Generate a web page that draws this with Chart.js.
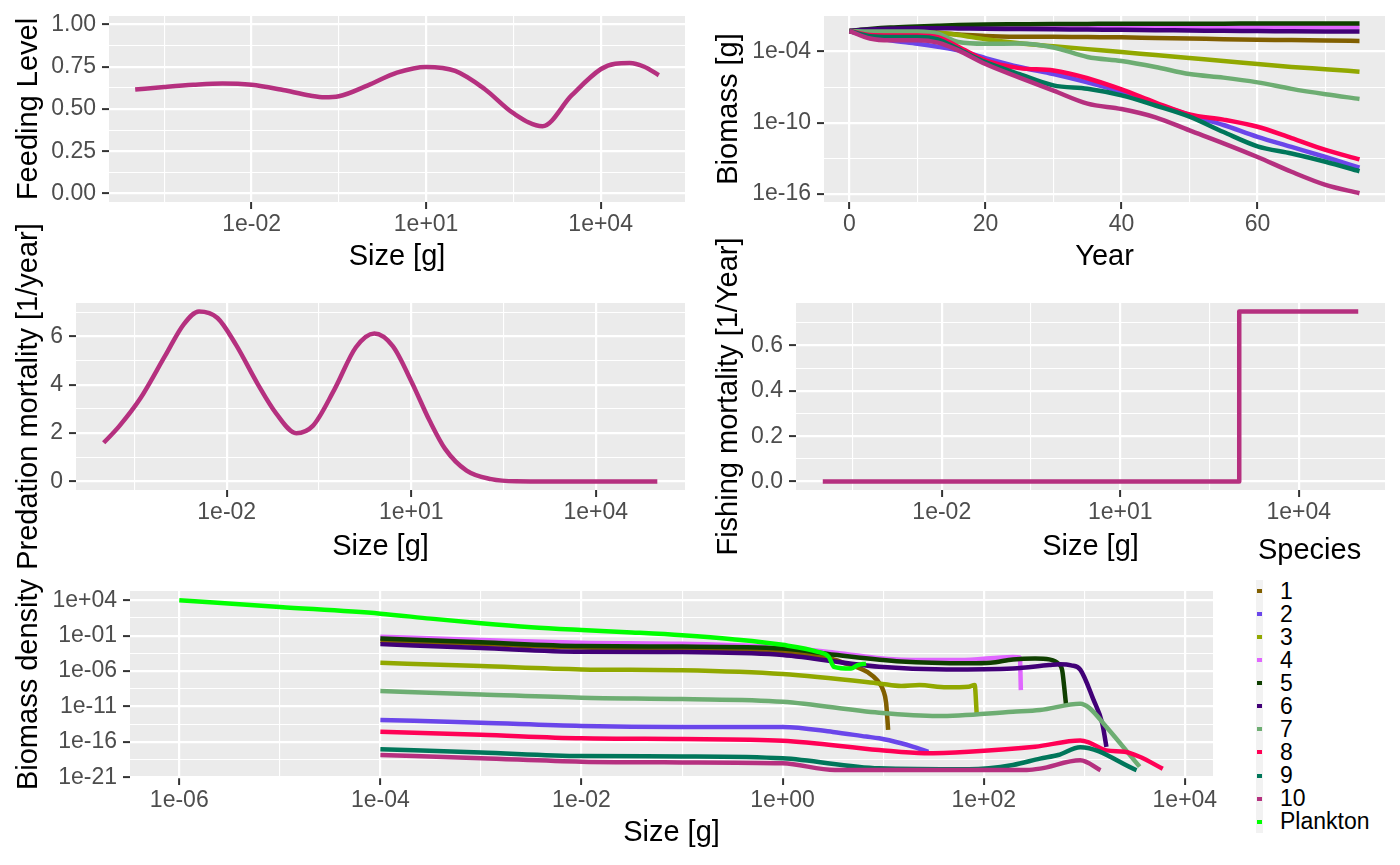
<!DOCTYPE html>
<html>
<head>
<meta charset="utf-8">
<title>mizer summary plots</title>
<script src="https://cdn.jsdelivr.net/npm/chart.js@4.4.1/dist/chart.umd.min.js"></script>
<style>
  body { margin: 0; background: #fff; }
  #wrap { position: relative; width: 1400px; height: 865px; overflow: hidden;
          font-family: "Liberation Sans", Arial, sans-serif; }
  #wrap canvas { position: absolute; }
  .lg { position: absolute; white-space: nowrap; }
</style>
</head>
<body>
<div id="wrap">
  <canvas id="feeding" width="679" height="274" style="left:12px;top:0px"></canvas>
  <canvas id="biomass" width="679" height="274" style="left:712px;top:0px"></canvas>
  <canvas id="predation" width="679" height="376" style="left:12px;top:200px"></canvas>
  <canvas id="fishing" width="679" height="376" style="left:712px;top:200px"></canvas>
  <canvas id="spectra" width="1207" height="290" style="left:12px;top:560px"></canvas>
</div>
<script>
// ---- data ----
var speciesNames = ['1', '2', '3', '4', '5', '6', '7', '8', '9', '10', 'Plankton'];
var speciesColors = ['#815F00', '#6A46EA', '#91A800', '#E066FF', '#0F3F00', '#410077',
                     '#6DAD72', '#FF0055', '#00765A', '#B5307F', '#00FF00'];

// feeding level vs size (all species lie on top of each other)
var feedSize = [1e-4, 3.16e-4, 1e-3, 3.16e-3, 1e-2, 3.16e-2, 0.1, 0.178, 0.316, 1, 3.16, 10,
                31.6, 100, 316, 1000, 3162, 1e4, 1.78e4, 3.16e4, 5.62e4, 1e5];
var feedLevel = [0.615, 0.630, 0.643, 0.651, 0.643, 0.615, 0.580, 0.569, 0.575, 0.64, 0.715, 0.749,
                 0.725, 0.62, 0.475, 0.398, 0.58, 0.735, 0.768, 0.772, 0.75, 0.70];

// predation mortality vs size
var predSize = [1e-4, 1.78e-4, 3.98e-4, 1e-3, 2e-3, 3.55e-3, 7.08e-3, 1.41e-2, 3.16e-2, 6.31e-2,
                0.135, 0.251, 0.562, 1.26, 2.51, 5.01, 10, 20, 35.5, 79.4, 200, 501, 3162, 3.16e4, 1e5];
var predMort = [1.6, 2.28, 3.45, 5.2, 6.5, 7.03, 6.76, 5.66, 4.05, 2.83,
                2.0, 2.3, 3.8, 5.55, 6.12, 5.6, 4.15, 2.5, 1.35, 0.45, 0.1, 0.01, 0, 0, 0];

// fishing mortality vs size (knife edge at 1 kg)
var fishSize = [1e-4, 1000, 1000, 1e5];
var fishMort = [0, 0, 0.75, 0.75];

// biomass through time
var years = [0, 3, 6, 10, 13, 16, 20, 25, 30, 35, 40, 45, 50, 55, 60, 65, 70, 75];
var bio1 = [5.4e-3, 5.0e-3, 4.5e-3, 4.0e-3, 3.5e-3, 2.8e-3, 2.1e-3, 1.8e-3, 1.74e-3, 1.66e-3, 1.6e-3, 1.4e-3, 1.26e-3, 1.1e-3, 1.0e-3, 9.3e-4, 8.5e-4, 7.9e-4];
var bio2 = [5.4e-3, 1.8e-3, 8.9e-4, 4.5e-4, 2.5e-4, 1.26e-4, 2.8e-5, 5.0e-6, 1.26e-6, 2.5e-7, 4.0e-8, 4.0e-9, 4.5e-10, 6.3e-11, 6.3e-12, 8.9e-13, 1.26e-13, 1.6e-14];
var bio3 = [5.4e-3, 5.6e-3, 5.6e-3, 5.0e-3, 4.0e-3, 2.5e-3, 1.1e-3, 5.0e-4, 2.8e-4, 1.6e-4, 9.3e-5, 5.0e-5, 2.8e-5, 1.6e-5, 8.7e-6, 5.0e-6, 3.2e-6, 2.0e-6];
var bio4 = [5.4e-3, 7.1e-3, 8.9e-3, 1.0e-2, 1.07e-2, 1.1e-2, 1.15e-2, 1.17e-2, 1.17e-2, 1.17e-2, 1.17e-2, 1.17e-2, 1.17e-2, 1.17e-2, 1.17e-2, 1.17e-2, 1.17e-2, 1.17e-2];
var bio5 = [5.4e-3, 7.9e-3, 1.05e-2, 1.3e-2, 1.5e-2, 1.7e-2, 1.9e-2, 2.0e-2, 2.1e-2, 2.15e-2, 2.2e-2, 2.2e-2, 2.25e-2, 2.25e-2, 2.3e-2, 2.3e-2, 2.3e-2, 2.3e-2];
var bio6 = [5.4e-3, 7.1e-3, 8.3e-3, 9.1e-3, 9.3e-3, 8.9e-3, 8.3e-3, 8.0e-3, 7.6e-3, 7.1e-3, 6.8e-3, 6.3e-3, 6.0e-3, 5.6e-3, 5.4e-3, 5.1e-3, 4.9e-3, 4.8e-3];
var bio7 = [5.4e-3, 5.0e-3, 5.0e-3, 4.8e-3, 3.2e-3, 6.3e-4, 4.5e-4, 4.7e-4, 2.2e-4, 3.5e-5, 1.6e-5, 5.0e-6, 1.26e-6, 6.3e-7, 2.5e-7, 7.1e-8, 2.5e-8, 1.0e-8];
var bio8 = [5.4e-3, 2.5e-3, 2.3e-3, 2.3e-3, 1.6e-3, 2.5e-4, 1.8e-5, 4.0e-6, 2.5e-6, 5.6e-7, 6.3e-8, 5.0e-9, 5.0e-10, 1.8e-10, 4.5e-11, 5.0e-12, 5.0e-13, 7.9e-14];
var bio9 = [5.4e-3, 2.0e-3, 1.7e-3, 1.7e-3, 1.07e-3, 1.6e-4, 1.26e-5, 1.26e-6, 1.4e-7, 7.1e-8, 2.0e-8, 2.8e-9, 3.2e-10, 1.6e-11, 1.0e-12, 2.5e-13, 5.0e-14, 7.9e-15];
var bio10 = [5.4e-3, 1.26e-3, 8.9e-4, 8.9e-4, 5.6e-4, 1.26e-4, 8.9e-6, 6.3e-7, 5.0e-8, 4.0e-9, 1.4e-9, 2.8e-10, 2.2e-11, 1.8e-12, 1.26e-13, 7.1e-15, 5.6e-16, 1.1e-16];

// biomass density spectra
var sp1Size = [1e-4, 1e-3, 1e-2, 0.1, 0.49, 1, 2.69, 3.98, 5.5, 7.08, 8.71, 10, 10.7, 11.2];
var sp1Dens = [1.78e-2, 6.31e-3, 2.14e-3, 1.58e-3, 1e-3, 5.62e-4, 1e-4, 1.58e-5, 3.55e-6, 6.31e-7, 5.01e-8, 2.0e-9, 3.16e-11, 5.01e-15];
var sp2Size = [1e-4, 1e-3, 1e-2, 0.1, 1, 3.16, 6.76, 9.12, 15.1, 20, 28.2];
var sp2Dens = [1.26e-13, 5.01e-14, 1.78e-14, 1.26e-14, 1.26e-14, 2.51e-15, 5.62e-16, 3.16e-16, 6.31e-17, 2.0e-17, 3.98e-18];
var sp3Size = [1e-4, 1e-3, 1e-2, 0.1, 1, 9.12, 15.1, 22.9, 42.7, 70.8, 81.3, 85.1];
var sp3Dens = [1.48e-5, 5.01e-6, 1.7e-6, 1.26e-6, 3.72e-7, 1.78e-8, 7.59e-9, 1.05e-8, 5.01e-9, 6.03e-9, 1.05e-8, 1e-12];
var sp4Size = [1e-4, 1e-3, 1e-2, 0.1, 1, 3.31, 15.1, 57.5, 195, 229, 234];
var sp4Dens = [7.08e-2, 2.51e-2, 1e-2, 7.08e-3, 2.14e-3, 3.98e-4, 3.98e-5, 3.55e-5, 1e-4, 8.32e-5, 2.0e-9];
var sp5Size = [1e-4, 1e-3, 1e-2, 0.1, 1, 3.31, 15.1, 70.8, 117, 195, 324, 447, 550, 603, 631, 661];
var sp5Dens = [3.98e-2, 1.12e-2, 3.31e-3, 2.82e-3, 1.55e-3, 2.0e-4, 2.24e-5, 1.26e-5, 1.48e-5, 4.37e-5, 6.03e-5, 4.37e-5, 1.17e-5, 1.26e-6, 6.31e-9, 1e-11];
var sp6Size = [1e-4, 1e-3, 1e-2, 0.1, 0.49, 1, 9.12, 42.7, 195, 447, 575, 741, 912, 1230, 1510, 1660];
var sp6Dens = [6.31e-3, 1.78e-3, 5.25e-4, 5.01e-4, 3.16e-4, 1.78e-4, 3.98e-6, 1.7e-6, 2.34e-6, 6.92e-6, 9.12e-6, 6.31e-6, 1.58e-6, 1e-10, 3.98e-14, 2.0e-17];
var sp7Size = [1e-4, 1e-3, 1e-2, 0.1, 1, 9.12, 34.7, 195, 363, 912, 1120, 1660, 3550];
var sp7Dens = [1.48e-9, 5.01e-10, 1.7e-10, 1.12e-10, 4.68e-11, 1.32e-12, 4.47e-13, 1.82e-12, 3.16e-12, 2.4e-11, 6.31e-12, 1.26e-14, 3.16e-20];
var sp8Size = [1e-4, 1e-3, 1e-2, 0.1, 1, 9.12, 25.7, 70.8, 324, 912, 1120, 1660, 2510, 3550, 6030];
var sp8Dens = [2.75e-15, 1e-15, 3.16e-16, 2.51e-16, 1.48e-16, 7.08e-18, 2.51e-18, 4.17e-18, 2.09e-17, 1.58e-16, 7.94e-17, 6.31e-18, 3.98e-18, 7.94e-19, 1.58e-20];
var sp9Size = [1e-4, 1e-3, 1e-2, 0.1, 1, 9.12, 70.8, 195, 363, 550, 912, 3310];
var sp9Dens = [8.91e-18, 3.16e-18, 1e-18, 8.91e-19, 4.79e-19, 1.86e-20, 1.35e-20, 5.5e-20, 4.37e-19, 1.41e-18, 1.78e-17, 1e-20];
var sp10Size = [1e-4, 1e-3, 1e-2, 0.1, 1, 3.31, 269, 363, 912, 1450];
var sp10Dens = [1.41e-18, 5.01e-19, 1.58e-19, 1.26e-19, 9.33e-20, 1.07e-20, 1.07e-20, 1.66e-20, 2.51e-19, 1e-20];
var plSize = [1e-6, 1e-5, 1e-4, 3.16e-4, 1e-3, 3.16e-3, 1e-2, 3.16e-2, 0.1, 0.316, 1, 2.24, 2.88, 3.24, 4.79, 5.5, 6.76];
var plDens = [1e4, 1.12e3, 126, 25.1, 5.62, 1.58, 0.631, 0.282, 0.112, 3.16e-2, 5.01e-3, 5.01e-4, 1e-4, 3.98e-6, 2.24e-6, 6.31e-6, 1.12e-5];

// ---- axis breaks ----
var sizeBreaks = [1e-2, 1e1, 1e4];
var sizeLabels = ['1e-02', '1e+01', '1e+04'];
var sizeMinor = [Math.pow(10, -3.5), Math.pow(10, -0.5), Math.pow(10, 2.5)];
var feedBreaks = [0, 0.25, 0.5, 0.75, 1];
var feedLabels = ['0.00', '0.25', '0.50', '0.75', '1.00'];
var feedMinor = [0.125, 0.375, 0.625, 0.875];
var yearBreaks = [0, 20, 40, 60];
var yearLabels = ['0', '20', '40', '60'];
var yearMinor = [10, 30, 50, 70];
var bioBreaks = [1e-4, 1e-10, 1e-16];
var bioLabels = ['1e-04', '1e-10', '1e-16'];
var bioMinor = [1e-7, 1e-13];
var predBreaks = [0, 2, 4, 6];
var predLabels = ['0', '2', '4', '6'];
var predMinor = [1, 3, 5, 7];
var fishBreaks = [0, 0.2, 0.4, 0.6];
var fishLabels = ['0.0', '0.2', '0.4', '0.6'];
var fishMinor = [0.1, 0.3, 0.5, 0.7];
var specXBreaks = [1e-6, 1e-4, 1e-2, 1, 1e2, 1e4];
var specXLabels = ['1e-06', '1e-04', '1e-02', '1e+00', '1e+02', '1e+04'];
var specXMinor = [1e-5, 1e-3, 1e-1, 1e1, 1e3];
var specYBreaks = [1e4, 1e-1, 1e-6, 1e-11, 1e-16, 1e-21];
var specYLabels = ['1e+04', '1e-01', '1e-06', '1e-11', '1e-16', '1e-21'];
var specYMinor = [Math.pow(10, 1.5), Math.pow(10, -3.5), Math.pow(10, -8.5), Math.pow(10, -13.5), Math.pow(10, -18.5)];

// ---- helpers ----
var FONT = '"Liberation Sans", Arial, sans-serif';
Chart.defaults.font.family = FONT;

// grey panel behind the grid, like ggplot
var panelBg = {
  id: 'panelBg',
  beforeDraw: function (chart) {
    var a = chart.chartArea, c = chart.ctx;
    c.save();
    c.fillStyle = '#EBEBEB';
    c.fillRect(a.left, a.top, a.right - a.left, a.bottom - a.top);
    c.restore();
  }
};

function isMinor(ctx) { return ctx.tick && ctx.tick.minor; }

function axis(o) {
  return {
    type: o.type,
    position: o.position,
    min: o.min,
    max: o.max,
    bounds: 'data',
    afterBuildTicks: function (s) {
      var t = [];
      o.breaks.forEach(function (v, i) { if (v >= o.min && v <= o.max) t.push({ value: v, lbl: o.labels[i] }); });
      o.minor.forEach(function (v) { if (v > o.min && v < o.max) t.push({ value: v, lbl: '', minor: true }); });
      t.sort(function (a, b) { return a.value - b.value; });
      s.ticks = t;
    },
    afterFit: function (s) {
      if (s.isHorizontal()) s.height = o.size; else s.width = o.size;
      s.paddingTop = s.paddingBottom = s.paddingLeft = s.paddingRight = 0;
    },
    border: { display: false },
    grid: {
      color: '#FFFFFF',
      lineWidth: function (ctx) { return isMinor(ctx) ? 1.1 : 2.2; },
      drawTicks: true,
      tickLength: 7,
      tickWidth: 2,
      tickColor: function (ctx) { return isMinor(ctx) ? 'rgba(0,0,0,0)' : '#333333'; }
    },
    ticks: {
      autoSkip: false,
      maxRotation: 0,
      padding: o.position === 'bottom' ? 2 : 6,
      color: '#4D4D4D',
      font: { family: FONT, size: 23, lineHeight: 1.2 },
      callback: function (v, i, t) { return t[i].lbl; }
    },
    title: {
      display: true,
      text: o.title,
      color: '#000000',
      padding: 0,
      font: { family: FONT, size: 29, lineHeight: 1.2 }
    }
  };
}

function line(label, xs, ys, color, smooth) {
  return {
    label: label,
    data: xs.map(function (x, i) { return { x: x, y: ys[i] }; }),
    borderColor: color,
    borderWidth: 4.5,
    pointRadius: 0,
    fill: false,
    cubicInterpolationMode: smooth ? 'monotone' : 'default',
    tension: 0,
    borderJoinStyle: 'round'
  };
}

function makeChart(id, datasets, xAxis, yAxis, pad) {
  return new Chart(document.getElementById(id), {
    type: 'line',
    data: { datasets: datasets },
    plugins: [panelBg],
    options: {
      responsive: false,
      animation: false,
      devicePixelRatio: 1,
      layout: { padding: pad },
      plugins: { legend: { display: false }, tooltip: { enabled: false } },
      scales: { x: xAxis, y: yAxis }
    }
  });
}

var sizeMin = Math.pow(10, -4.45), sizeMax = Math.pow(10, 5.45);

// ---- top left: feeding level ----
makeChart('feeding',
  [line('Feeding level', feedSize, feedLevel, speciesColors[9], true)],
  axis({ type: 'logarithmic', position: 'bottom', min: sizeMin, max: sizeMax, breaks: sizeBreaks,
         labels: sizeLabels, minor: sizeMinor, size: 72, title: 'Size [g]' }),
  axis({ type: 'linear', position: 'left', min: -0.05, max: 1.05, breaks: feedBreaks,
         labels: feedLabels, minor: feedMinor, size: 97, title: 'Feeding Level' }),
  { top: 16, right: 6, bottom: 0, left: 0 });

// ---- top right: biomass through time ----
var bioSeries = [bio1, bio2, bio3, bio4, bio5, bio6, bio7, bio8, bio9, bio10];
var bioSets = bioSeries.map(function (b, i) { return line(speciesNames[i], years, b, speciesColors[i], true); }).reverse();
makeChart('biomass', bioSets,
  axis({ type: 'linear', position: 'bottom', min: -3.75, max: 78.75, breaks: yearBreaks,
         labels: yearLabels, minor: yearMinor, size: 72, title: 'Year' }),
  axis({ type: 'logarithmic', position: 'left', min: Math.pow(10, -16.7), max: 0.1, breaks: bioBreaks,
         labels: bioLabels, minor: bioMinor, size: 112, title: 'Biomass [g]' }),
  { top: 16, right: 6, bottom: 0, left: 0 });

// ---- middle left: predation mortality ----
makeChart('predation',
  [line('Predation mortality', predSize, predMort, speciesColors[9], true)],
  axis({ type: 'logarithmic', position: 'bottom', min: sizeMin, max: sizeMax, breaks: sizeBreaks,
         labels: sizeLabels, minor: sizeMinor, size: 74, title: 'Size [g]' }),
  axis({ type: 'linear', position: 'left', min: -0.35, max: 7.38, breaks: predBreaks,
         labels: predLabels, minor: predMinor, size: 64, title: 'Predation mortality [1/year]' }),
  { top: 103, right: 6, bottom: 12, left: 0 });

// ---- middle right: fishing mortality ----
makeChart('fishing',
  [line('Fishing mortality', fishSize, fishMort, speciesColors[9], false)],
  axis({ type: 'logarithmic', position: 'bottom', min: sizeMin, max: sizeMax, breaks: sizeBreaks,
         labels: sizeLabels, minor: sizeMinor, size: 74, title: 'Size [g]' }),
  axis({ type: 'linear', position: 'left', min: -0.0375, max: 0.7875, breaks: fishBreaks,
         labels: fishLabels, minor: fishMinor, size: 84, title: 'Fishing mortality [1/Year]' }),
  { top: 103, right: 6, bottom: 12, left: 0 });

// ---- bottom: biomass density spectra ----
var specSizes = [sp1Size, sp2Size, sp3Size, sp4Size, sp5Size, sp6Size, sp7Size, sp8Size, sp9Size, sp10Size, plSize];
var specDens = [sp1Dens, sp2Dens, sp3Dens, sp4Dens, sp5Dens, sp6Dens, sp7Dens, sp8Dens, sp9Dens, sp10Dens, plDens];
var specSets = specSizes.map(function (s, i) { return line(speciesNames[i], s, specDens[i], speciesColors[i], true); }).reverse();
makeChart('spectra', specSets,
  axis({ type: 'logarithmic', position: 'bottom', min: Math.pow(10, -6.49), max: Math.pow(10, 4.28), breaks: specXBreaks,
         labels: specXLabels, minor: specXMinor, size: 72, title: 'Size [g]' }),
  axis({ type: 'logarithmic', position: 'left', min: Math.pow(10, -21.1), max: Math.pow(10, 5.3), breaks: specYBreaks,
         labels: specYLabels, minor: specYMinor, size: 118, title: 'Biomass density' }),
  { top: 31, right: 6, bottom: 0, left: 0 });

// ---- legend ----
var wrap = document.getElementById('wrap');
function addDiv(css, text) {
  var d = document.createElement('div');
  d.className = 'lg';
  d.style.cssText = css;
  if (text) d.textContent = text;
  wrap.appendChild(d);
}
addDiv('left:1258px;top:532px;font-size:29px;line-height:35px;color:#000;', 'Species');
speciesNames.forEach(function (name, i) {
  var cy = 591 + i * 23.07;
  addDiv('left:1256px;top:' + (cy - 11.5) + 'px;width:7px;height:23px;background:#F2F2F2;');
  addDiv('left:1257px;top:' + (cy - 2) + 'px;width:5px;height:4px;background:' + speciesColors[i] + ';');
  addDiv('left:1280px;top:' + (cy - 11.5) + 'px;font-size:23px;line-height:23px;color:#000;', name);
});
</script>
</body>
</html>
